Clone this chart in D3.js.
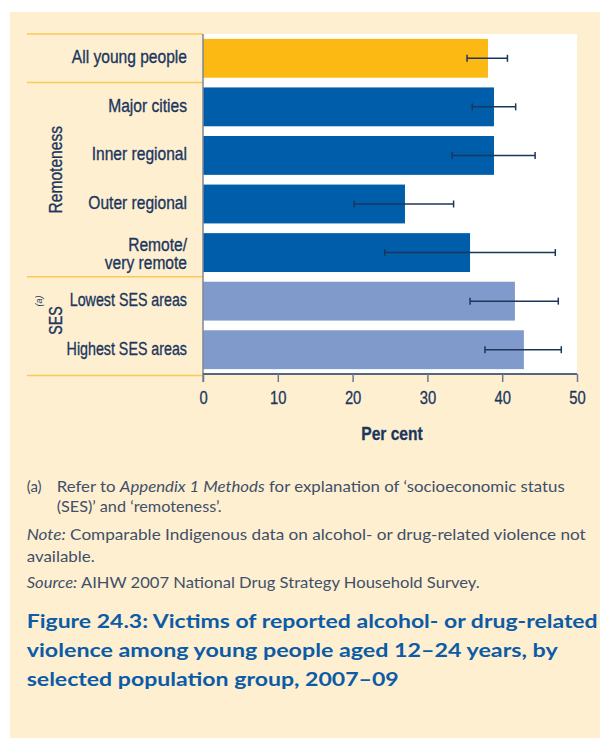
<!DOCTYPE html>
<html>
<head>
<meta charset="utf-8">
<script src="https://cdn.jsdelivr.net/npm/d3@7"></script>
<style>
  html, body { margin: 0; padding: 0; background: #ffffff; }
  svg { display: block; }
</style>
</head>
<body>
<div id="chart"></div>
<script>
// ---- Data ----
const categories = ["All young people", "Major cities", "Inner regional", "Outer regional", "Remote/\nvery remote", "Lowest SES areas", "Highest SES areas"];
const groups = ["all", "remoteness", "remoteness", "remoteness", "remoteness", "ses", "ses"];
const values = [38.1, 38.9, 38.9, 27.0, 35.7, 41.7, 42.9];
const lowerCI = [35.3, 36.0, 33.3, 20.2, 24.3, 35.7, 37.7];
const upperCI = [40.7, 41.8, 44.4, 33.5, 47.1, 47.5, 47.9];
const xTicks = [0, 10, 20, 30, 40, 50];
const groupColors = { all: "#FDB913", remoteness: "#005DAA", ses: "#7F9ACB" };

const W = 600, H = 738;
const navy = "#1B365D";
const labelFont = "'Liberation Sans', Arial, sans-serif";
const bodyFont = "Lato, 'Open Sans', sans-serif";
const NARROW = 0.82;

// condense a text element horizontally (Arial Narrow look)
function narrow(sel, k) {
  sel.each(function () {
    const len = this.getComputedTextLength();
    d3.select(this).attr("textLength", len * (k || NARROW)).attr("lengthAdjust", "spacingAndGlyphs");
  });
}
function thicken(sel, w) {
  sel.attr("stroke", navy).attr("stroke-width", w || 0.35).attr("stroke-linejoin", "round");
}

const svg = d3.select("#chart").append("svg").attr("width", W).attr("height", H);

// panel background
svg.append("rect").attr("x", 10).attr("y", 12).attr("width", W - 10).attr("height", H - 12).attr("fill", "#FEEFD1");

const plot = { left: 203, right: 577, top: 34, bottom: 374 };

const x = d3.scaleLinear().domain([0, 50]).range([plot.left, plot.right]);
const y = d3.scaleBand().domain(d3.range(categories.length)).range([plot.top, plot.bottom]).paddingInner(0.2).paddingOuter(0.1);

// white plot area
svg.append("rect").attr("x", plot.left).attr("y", plot.top).attr("width", plot.right - plot.left).attr("height", plot.bottom - plot.top).attr("fill", "#ffffff");

// bars
svg.append("g").selectAll("rect").data(values).join("rect")
  .attr("x", x(0))
  .attr("y", (d, i) => y(i))
  .attr("width", d => x(d) - x(0))
  .attr("height", y.bandwidth())
  .attr("fill", (d, i) => groupColors[groups[i]]);

// error bars
const eb = svg.append("g").attr("stroke", navy).attr("stroke-width", 1.5).attr("fill", "none");
values.forEach((v, i) => {
  const cy = y(i) + y.bandwidth() / 2;
  eb.append("line").attr("x1", x(lowerCI[i])).attr("x2", x(upperCI[i])).attr("y1", cy).attr("y2", cy);
  eb.append("line").attr("x1", x(lowerCI[i])).attr("x2", x(lowerCI[i])).attr("y1", cy - 3.5).attr("y2", cy + 3.5);
  eb.append("line").attr("x1", x(upperCI[i])).attr("x2", x(upperCI[i])).attr("y1", cy - 3.5).attr("y2", cy + 3.5);
});

// separator lines in label panel
const sepColor = "#FCC957";
const half = (y.step() - y.bandwidth()) / 2;
const sepYs = [plot.top, y(1) - half, y(5) - half, plot.bottom + 1.5];
svg.append("g").selectAll("line").data(sepYs).join("line")
  .attr("x1", 27).attr("x2", plot.left).attr("y1", d => d).attr("y2", d => d)
  .attr("stroke", sepColor).attr("stroke-width", 1.5);

// vertical axis line
svg.append("line").attr("x1", plot.left).attr("x2", plot.left).attr("y1", plot.top).attr("y2", plot.bottom + 8)
  .attr("stroke", "#7D8797").attr("stroke-width", 1.5);

// x axis
const xAxis = d3.axisBottom(x).tickValues(xTicks).tickSize(8).tickPadding(9).tickFormat(d3.format("d"));
const gx = svg.append("g").attr("transform", `translate(0,${plot.bottom})`).call(xAxis);
gx.select(".domain").attr("stroke", navy).attr("stroke-width", 1.5).attr("d", `M${plot.left},0H${plot.right}`);
gx.selectAll(".tick line").attr("stroke", "#6B7890").attr("stroke-width", 1.5);
gx.selectAll(".tick text").attr("fill", navy).attr("font-family", labelFont).attr("font-size", 18).call(narrow).call(thicken, 0.3);

// x axis title
svg.append("text").attr("x", (plot.left + plot.right) / 2 + 2).attr("y", 440)
  .attr("text-anchor", "middle").attr("font-family", labelFont).attr("font-weight", "bold")
  .attr("font-size", 19).attr("fill", navy).text("Per cent").call(narrow).call(thicken, 0.3);

// category labels
const catG = svg.append("g").attr("font-family", labelFont).attr("font-size", 19).attr("fill", navy).attr("text-anchor", "end");
categories.forEach((c, i) => {
  const cy = y(i) + y.bandwidth() / 2;
  const lines = c.split("\n");
  const k = c.includes("SES") ? 0.75 : NARROW;
  if (lines.length === 1) {
    catG.append("text").attr("x", 187).attr("y", cy + 5).text(c).call(narrow, k).call(thicken);
  } else {
    const t = catG.append("text").attr("transform", `translate(187,${cy}) scale(${k},1)`).call(thicken);
    t.append("tspan").attr("x", 0).attr("y", -2).text(lines[0]);
    t.append("tspan").attr("x", 0).attr("y", 16).text(lines[1]);
  }
});

// group labels (rotated)
const remCenter = (y(1) + y(4) + y.bandwidth()) / 2 - 10;
svg.append("text").attr("transform", `translate(61.5,${remCenter}) rotate(-90)`)
  .attr("text-anchor", "middle").attr("font-family", labelFont).attr("font-size", 19).attr("fill", navy)
  .text("Remoteness").call(narrow).call(thicken);

const sesCenter = (y(5) + y(6) + y.bandwidth()) / 2 - 5;
svg.append("text").attr("transform", `translate(61.5,${sesCenter}) rotate(-90)`)
  .attr("text-anchor", "middle").attr("font-family", labelFont).attr("font-size", 19).attr("fill", navy)
  .text("SES").call(narrow, 0.75).call(thicken);
svg.append("text").attr("transform", `translate(42,${sesCenter - 14}) rotate(-90)`)
  .attr("text-anchor", "start").attr("font-family", labelFont).attr("font-size", 9).attr("font-style", "italic").attr("fill", navy)
  .text("(a)");

// footnotes
const fn = svg.append("g").attr("font-family", bodyFont).attr("font-size", 15).attr("fill", "#415068");
fn.append("text").attr("x", 26.7).attr("y", 492).text("(a)");
const l1 = fn.append("text").attr("x", 56.7).attr("y", 492).attr("textLength", 508).attr("lengthAdjust", "spacingAndGlyphs");
l1.append("tspan").text("Refer to ");
l1.append("tspan").attr("font-style", "italic").text("Appendix 1 Methods");
l1.append("tspan").text(" for explanation of \u2018socioeconomic status");
fn.append("text").attr("x", 56.7).attr("y", 512).attr("textLength", 165).attr("lengthAdjust", "spacingAndGlyphs")
  .text("(SES)\u2019 and \u2018remoteness\u2019.");
const l3 = fn.append("text").attr("x", 26.7).attr("y", 540).attr("textLength", 559).attr("lengthAdjust", "spacingAndGlyphs");
l3.append("tspan").attr("font-style", "italic").text("Note:");
l3.append("tspan").text(" Comparable Indigenous data on alcohol- or drug-related violence not");
fn.append("text").attr("x", 26.7).attr("y", 562).attr("textLength", 68).attr("lengthAdjust", "spacingAndGlyphs").text("available.");
const l5 = fn.append("text").attr("x", 26.7).attr("y", 588).attr("textLength", 453).attr("lengthAdjust", "spacingAndGlyphs");
l5.append("tspan").attr("font-style", "italic").text("Source:");
l5.append("tspan").text(" AIHW 2007 National Drug Strategy Household Survey.");

// title
const titleLines = ["Figure 24.3: Victims of reported alcohol- or drug-related", "violence among young people aged 12\u201324 years, by", "selected population group, 2007\u201309"];
const titleLens = [571, 531, 372];
const tg = svg.append("g").attr("font-family", bodyFont).attr("font-weight", "bold").attr("font-size", 19.5).attr("fill", "#0B5BA6");
titleLines.forEach((t, i) => {
  tg.append("text").attr("x", 26.7).attr("y", 628 + i * 29)
    .attr("textLength", titleLens[i]).attr("lengthAdjust", "spacingAndGlyphs").text(t);
});
</script>
</body>
</html>
